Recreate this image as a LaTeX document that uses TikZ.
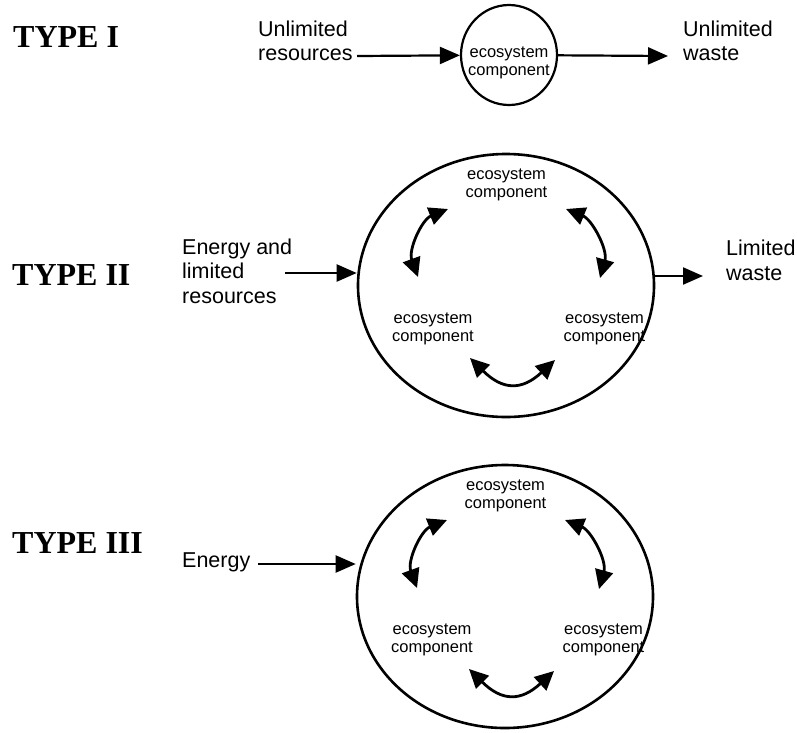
\documentclass[tikz,border=0pt]{standalone}
\usepackage{fontspec}
\setmainfont{Liberation Sans}
\newfontfamily\typefont{Liberation Serif}
\usetikzlibrary{arrows.meta,shapes.geometric}

\tikzset{
  lbl/.style={font=\fontsize{21.5}{24.5}\selectfont, align=left, anchor=base west, inner sep=0pt},
  typelbl/.style={font=\typefont\bfseries\fontsize{32}{36}\selectfont, anchor=base west, inner sep=0pt},
  comp/.style={font=\fontsize{16.5}{18}\selectfont, align=center, anchor=base, inner sep=0pt},
  flow/.style={line width=2.2pt, -{Triangle[length=20pt,width=17pt]}},
  swap/.style={line width=2.8pt, {Triangle[length=19pt,width=18pt]}-{Triangle[length=19pt,width=18pt]}},
  sys/.style={draw, ellipse, line width=2.6pt, inner sep=0pt, minimum width=296pt, minimum height=263pt},
}

% A closed system: three components exchanging material in a ring
% (multi-line nodes sit on the baseline of their last line)
\newcommand{\ecocycle}[3]{%
  \begin{scope}[shift={(#2,#3)}]
    \node[sys] (#1) at (0,0) {};
    \node[comp] (#1top)   at (0.5,-88) {ecosystem\\component};
    \node[comp] (#1left)  at (-73,55.5) {ecosystem\\component};
    \node[comp] (#1right) at (98.5,55.5) {ecosystem\\component};
    \coordinate (#1tla) at (-58,-76.5);
    \coordinate (#1tlb) at (-88,-8.5);
    \coordinate (#1tra) at (60,-76.5);
    \coordinate (#1trb) at (94,-7.5);
    \coordinate (#1bl)  at (-36,72.5);
    \coordinate (#1br)  at (49,74.5);
    \draw[swap] (#1tlb) .. controls (-98,-36) and (-84,-66) .. (#1tla);
    \draw[swap] (#1trb) .. controls (102,-36) and (86,-66) .. (#1tra);
    \draw[swap] (#1bl) .. controls (-3,105) and (16,105) .. (#1br);
  \end{scope}}

\begin{document}
\begin{tikzpicture}[x=1pt, y=-1pt]
  \useasboundingbox (0,0) rectangle (797,732);

  % Type I: open flow through a single component
  \node[typelbl] (t1) at (13,47) {TYPE I};
  \node[draw, ellipse, line width=2.2pt, inner sep=0pt, minimum width=96pt, minimum height=100pt] (c1) at (509,55) {};
  \node[comp] (c1txt) at (509,75) {ecosystem\\component};
  \node[lbl] (res1) at (258,60.5) {Unlimited\\resources};
  \node[lbl] (waste1) at (683,60.5) {Unlimited\\waste};
  \coordinate (in1) at (357,56);
  \coordinate (out1) at (668,56);
  \draw[flow] (in1) -- (c1);
  \draw[flow] (c1) -- (out1);

  % Type II: partly closed system
  \node[typelbl] (t2) at (12,285) {TYPE II};
  \ecocycle{sysB}{506}{285.5}
  \node[lbl] (res2) at (182,303) {Energy and\\limited\\resources};
  \node[lbl] (waste2) at (726,280) {Limited\\waste};
  \coordinate (in2) at (285,273);
  \coordinate (out2) at (703,276);
  \draw[flow] (in2) -- (in2 -| sysB.west);
  \draw[flow] (out2 -| sysB.east) -- (out2);

  % Type III: closed system driven by energy only
  \node[typelbl] (t3) at (12,553) {TYPE III};
  \ecocycle{sysC}{505}{596.5}
  \node[lbl] (en3) at (182,567) {Energy};
  \coordinate (in3) at (258,564);
  \draw[flow] (in3) -- (in3 -| sysC.west);
\end{tikzpicture}
\end{document}
